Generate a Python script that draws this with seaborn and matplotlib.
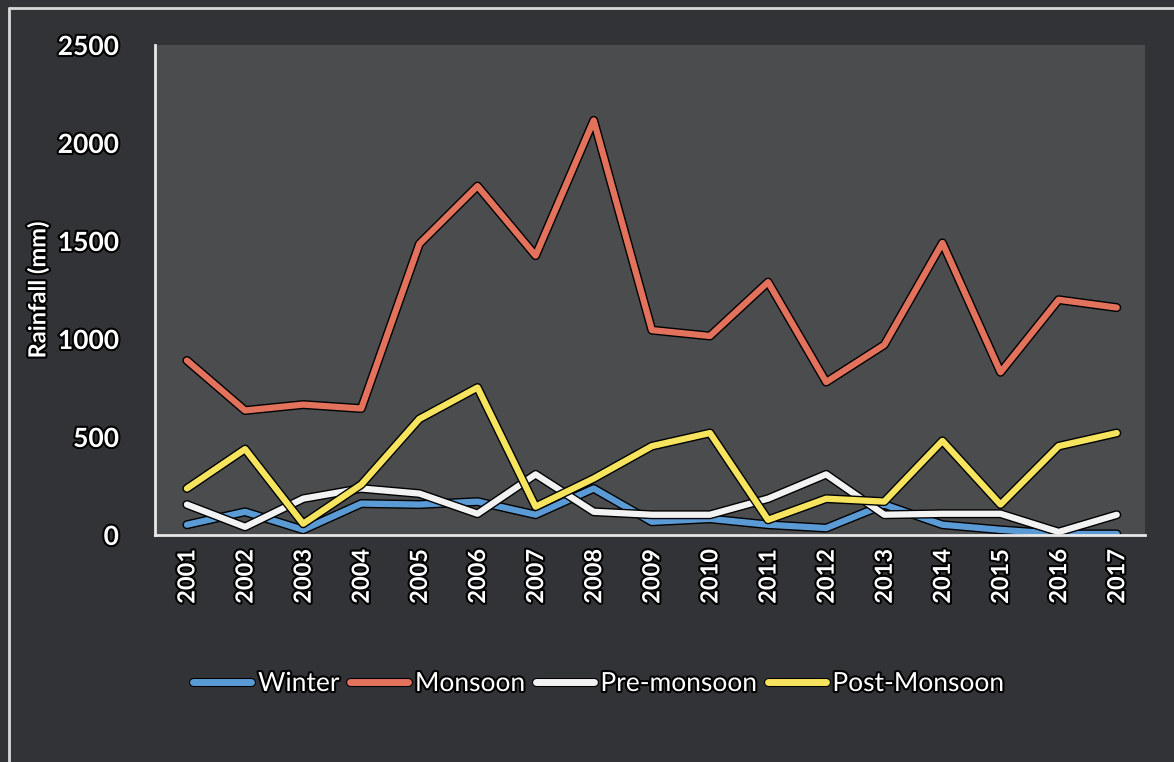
import numpy as np
import pandas as pd
import matplotlib
matplotlib.use("Agg")
import matplotlib.pyplot as plt
import matplotlib.patheffects as pe
import seaborn as sns

years = list(range(2001, 2018))
winter = [52, 118, 26, 160, 155, 170, 103, 237, 67, 82, 52, 35, 155, 52, 26, 5, 5]
monsoon = [890, 635, 665, 645, 1485, 1780, 1425, 2115, 1045, 1015, 1290, 780, 970, 1490, 830, 1200, 1160]
pre_monsoon = [155, 41, 185, 237, 211, 108, 309, 118, 103, 103, 185, 309, 103, 108, 108, 15, 103]
post_monsoon = [237, 438, 57, 257, 592, 752, 144, 288, 453, 520, 77, 185, 170, 480, 155, 453, 520]

seasons = ["Winter", "Monsoon", "Pre-monsoon", "Post-Monsoon"]
colors = ["#5b9bd5", "#e2725b", "#f2f2f2", "#f7e45e"]

df = pd.DataFrame({"Year": years, "Winter": winter, "Monsoon": monsoon,
                   "Pre-monsoon": pre_monsoon, "Post-Monsoon": post_monsoon})
long = df.melt(id_vars="Year", var_name="Season", value_name="Rainfall")

sns.set_style("dark")
plt.rcParams["font.family"] = ["Lato", "DejaVu Sans"]

fig = plt.figure(figsize=(11.74, 7.62), dpi=100, facecolor="#313337")
ax = fig.add_axes([0.132, 0.298, 0.843, 0.643])
ax.set_facecolor("#4a4c4e")

sns.lineplot(data=long, x="Year", y="Rainfall", hue="Season", hue_order=seasons,
             palette=colors, linewidth=4.5, ax=ax, legend=False)
outline = [pe.Stroke(linewidth=6.5, foreground="black"), pe.Normal()]
for ln in ax.lines:
    ln.set_path_effects(outline)

txt_fx = [pe.withStroke(linewidth=3, foreground="black")]
ax.set_xlim(2000.45, 2017.48)
ax.set_ylim(0, 2500)
ax.set_xticks(years)
ax.set_xticklabels([str(y) for y in years], rotation=90, fontsize=17,
                   fontweight="bold", color="white", path_effects=txt_fx)
ax.set_yticks([0, 500, 1000, 1500, 2000, 2500])
ax.set_yticklabels(["0", "500", "1000", "1500", "2000", "2500"], fontsize=19,
                   fontweight="bold", color="white", path_effects=txt_fx)
ax.tick_params(axis="y", length=0, pad=26)
ax.tick_params(axis="x", length=0, pad=10)
ax.set_xlabel("")
ax.set_ylabel("Rainfall (mm)", fontsize=17, fontweight="bold", color="white",
              path_effects=txt_fx, labelpad=6)
ax.grid(False)
for side in ["top", "right"]:
    ax.spines[side].set_visible(False)
for side in ["left", "bottom"]:
    ax.spines[side].set_visible(True)
    ax.spines[side].set_color("#e8e8e8")
    ax.spines[side].set_linewidth(2)

handles = [plt.Line2D([], [], color=c, linewidth=5, path_effects=outline) for c in colors]
leg = fig.legend(handles, seasons, loc="center", bbox_to_anchor=(0.51, 0.103), ncol=4,
                 frameon=False, fontsize=19, handlelength=2.2, columnspacing=0.4,
                 handletextpad=0.25)
for t in leg.get_texts():
    t.set_color("white")
    t.set_path_effects(txt_fx)

# photo frame edges
fig.add_artist(plt.Line2D([0.008, 0.008], [0.0, 0.99], color="#d8d8d8", linewidth=2))
fig.add_artist(plt.Line2D([0.008, 1.0], [0.99, 0.99], color="#d8d8d8", linewidth=2))

fig.savefig("out.png", dpi=100, facecolor=fig.get_facecolor())
